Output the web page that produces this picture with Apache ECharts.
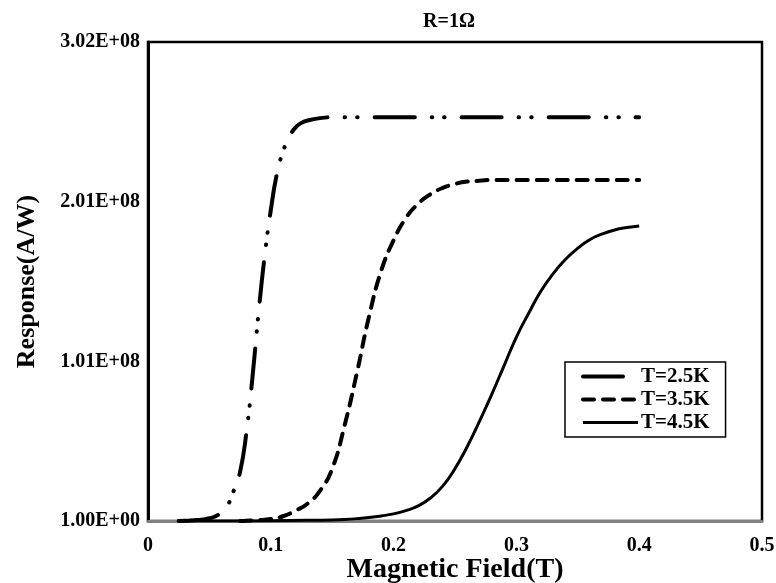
<!DOCTYPE html>
<html>
<head>
<meta charset="utf-8">
<script src="https://cdn.jsdelivr.net/npm/echarts@6/dist/echarts.min.js"></script>
<style>
html,body{margin:0;padding:0;background:#fff;}
#chart{width:776px;height:583px;}
</style>
</head>
<body>
<div id="chart"></div>
<script>
// ---- Data ----
var seriesNames = ['T=2.5K', 'T=3.5K', 'T=4.5K'];

var field25 = [0.025, 0.030, 0.035, 0.040, 0.045, 0.050, 0.055, 0.060, 0.065, 0.070, 0.075, 0.080, 0.085, 0.090, 0.095, 0.100, 0.105, 0.110, 0.115, 0.120, 0.125, 0.130, 0.140, 0.150, 0.400];
var resp25  = [0, 0.1e6, 0.3e6, 0.6e6, 1e6, 1.7e6, 3e6, 5.5e6, 10e6, 19.5e6, 31e6, 55e6, 90e6, 131e6, 167e6, 196e6, 219e6, 233e6, 242e6, 248e6, 251e6, 252.5e6, 254e6, 254.5e6, 254.5e6];

var field35 = [0.075, 0.080, 0.090, 0.100, 0.110, 0.120, 0.130, 0.140, 0.150, 0.160, 0.170, 0.180, 0.190, 0.200, 0.210, 0.220, 0.230, 0.240, 0.250, 0.260, 0.270, 0.280, 0.400];
var resp35  = [0, 0.2e6, 0.5e6, 1.2e6, 3e6, 6.5e6, 11e6, 19e6, 33e6, 60e6, 93e6, 129e6, 158e6, 177e6, 191e6, 200e6, 206e6, 210e6, 212.5e6, 214e6, 214.5e6, 215e6, 215e6];

var field45 = [0.024, 0.060, 0.100, 0.130, 0.150, 0.160, 0.170, 0.180, 0.190, 0.200, 0.210, 0.220, 0.230, 0.240, 0.250, 0.260, 0.270, 0.280, 0.290, 0.300, 0.310, 0.320, 0.330, 0.340, 0.350, 0.360, 0.370, 0.380, 0.390, 0.400];
var resp45  = [0, 0.05e6, 0.15e6, 0.4e6, 0.7e6, 1.0e6, 1.5e6, 2.2e6, 3.2e6, 4.5e6, 6.5e6, 9.5e6, 14.5e6, 22e6, 33e6, 47e6, 63e6, 80e6, 98e6, 116e6, 131e6, 145e6, 156e6, 165e6, 172e6, 177.5e6, 181e6, 183.5e6, 185e6, 186e6];

var yTickLabels = ['1.00E+00', '1.01E+08', '2.01E+08', '3.02E+08'];
var yMax = 3.02e8;
var xTicks = [0, 0.1, 0.2, 0.3, 0.4, 0.5];
var xTickLabels = ['0', '0.1', '0.2', '0.3', '0.4', '0.5'];

function pairs(xs, ys) {
  return xs.map(function (x, i) { return [x, ys[i]]; });
}

var FONT = "'Liberation Serif', 'Times New Roman', serif";
var yInterval = yMax / 3;
var dashDotDot = [40, 17, 0.5, 12, 0.5, 17];
var dashes = [11, 9];

var chart = echarts.init(document.getElementById('chart'), null, {renderer: 'canvas'});
var option = {
  backgroundColor: '#ffffff',
  animation: false,
  title: {
    text: 'R=1\u03A9',
    left: 444, top: 7,
    textAlign: 'center',
    textStyle: {fontFamily: FONT, fontWeight: 'bold', fontSize: 20, color: '#000'}
  },
  grid: {
    left: 148, right: 14, top: 42, bottom: 62,
    outerBoundsMode: 'none', containLabel: false,
    show: true, borderColor: '#000', borderWidth: 2.5, backgroundColor: 'transparent'
  },
  legend: {
    orient: 'vertical',
    left: 565, top: 362,
    padding: [4, 16, 4, 16],
    itemGap: 2,
    itemWidth: 55, itemHeight: 14,
    borderColor: '#000', borderWidth: 1.5,
    backgroundColor: '#fff',
    itemStyle: {opacity: 0},
    textStyle: {fontFamily: FONT, fontWeight: 'bold', fontSize: 21, color: '#000', padding: [0, 0, 0, -2]},
    data: [
      {name: seriesNames[0], lineStyle: {width: 4, type: dashDotDot, cap: 'round', color: '#000'}},
      {name: seriesNames[1], lineStyle: {width: 4, type: dashes, cap: 'round', color: '#000'}},
      {name: seriesNames[2], lineStyle: {width: 3, type: 'solid', color: '#000'}}
    ]
  },
  xAxis: {
    type: 'value', min: 0, max: 0.5, interval: 0.1,
    name: 'Magnetic Field(T)', nameLocation: 'middle', nameGap: 35,
    nameMoveOverlap: false,
    nameTextStyle: {fontFamily: FONT, fontWeight: 'bold', fontSize: 28, color: '#000'},
    axisLine: {show: true, lineStyle: {color: '#808080', width: 3}},
    axisTick: {show: false},
    splitLine: {show: false},
    axisLabel: {
      margin: 15, fontFamily: FONT, fontWeight: 'bold', fontSize: 20, color: '#000',
      formatter: function (v) {
        var i = xTicks.findIndex(function (t) { return Math.abs(t - v) < 1e-9; });
        return i >= 0 ? xTickLabels[i] : '';
      }
    }
  },
  yAxis: {
    type: 'value', min: 0, max: yMax, interval: yInterval,
    name: 'Response(A/W)', nameLocation: 'middle', nameGap: 108,
    nameMoveOverlap: false,
    nameTextStyle: {fontFamily: FONT, fontWeight: 'bold', fontSize: 26, color: '#000'},
    axisLine: {show: true, lineStyle: {color: '#000', width: 3}},
    axisTick: {show: false},
    splitLine: {show: false},
    axisLabel: {
      margin: 8, fontFamily: FONT, fontWeight: 'bold', fontSize: 20, color: '#000',
      formatter: function (v) {
        var i = Math.round(v / yInterval);
        return yTickLabels[i] !== undefined ? yTickLabels[i] : '';
      }
    }
  },
  series: [
    {
      name: seriesNames[0], type: 'line', data: pairs(field25, resp25),
      symbol: 'none', smooth: true,
      lineStyle: {color: '#000', width: 4, type: dashDotDot, cap: 'round'},
      itemStyle: {color: '#000'}
    },
    {
      name: seriesNames[1], type: 'line', data: pairs(field35, resp35),
      symbol: 'none', smooth: true,
      lineStyle: {color: '#000', width: 4, type: dashes, cap: 'round'},
      itemStyle: {color: '#000'}
    },
    {
      name: seriesNames[2], type: 'line', data: pairs(field45, resp45),
      symbol: 'none', smooth: true,
      lineStyle: {color: '#000', width: 3},
      itemStyle: {color: '#000'}
    }
  ]
};
chart.setOption(option);
</script>
</body>
</html>
